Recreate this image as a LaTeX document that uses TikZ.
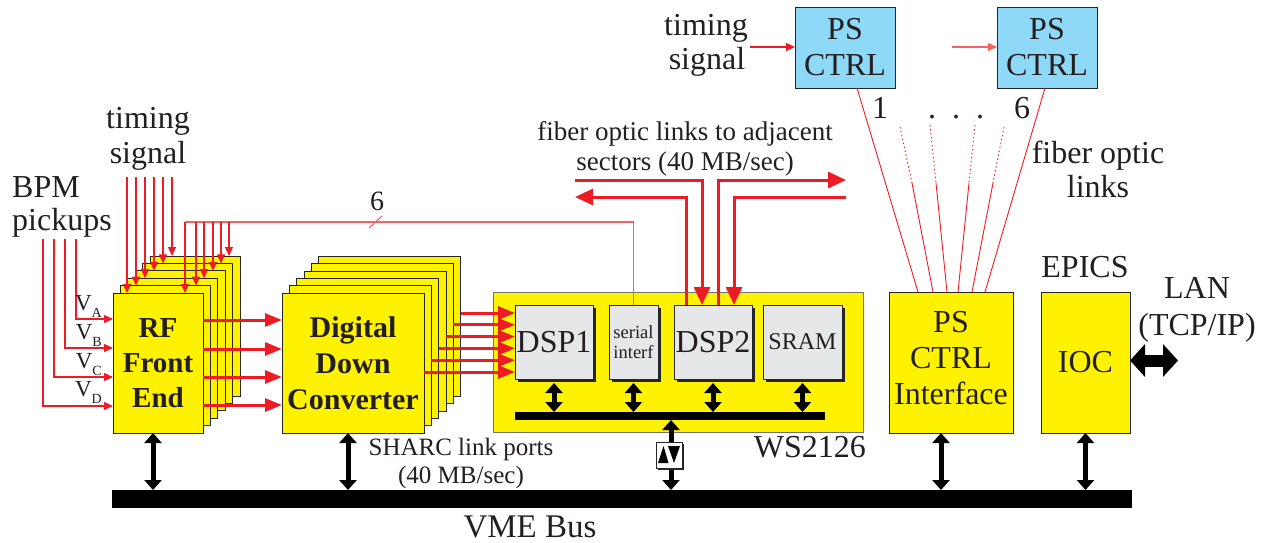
\documentclass[tikz,border=0pt]{standalone}
\usepackage{fontspec}
\setmainfont{Liberation Serif}
\usetikzlibrary{arrows.meta,shadows}
\definecolor{ylw}{HTML}{FFF200}
\definecolor{rd}{HTML}{ED1C24}
\definecolor{rdl}{HTML}{F26464}
\definecolor{gry}{HTML}{E6E7E8}
\definecolor{blu}{HTML}{8ED8F8}
\definecolor{txt}{HTML}{231F20}
\newcommand\myfs[2]{\fontsize{#1}{#2}\selectfont}
\begin{document}
\begin{tikzpicture}[x=1pt,y=-1pt,
  every node/.style={text=txt},
  ybox/.style={draw=black!85, fill=ylw, line width=0.8pt, inner sep=0pt, outer sep=0pt, anchor=north west},
  gbox/.style={draw=black!85, fill=gry, line width=0.8pt, inner sep=0pt, outer sep=0pt, anchor=north west,
     drop shadow={shadow xshift=3pt, shadow yshift=-3pt, fill=black!85, opacity=1}},
  bbox/.style={draw=black!85, fill=blu, line width=0.8pt, inner sep=0pt, outer sep=0pt, anchor=north west},
  lbl/.style={anchor=base, inner sep=0pt, font=\myfs{32}{36}},
  tarr/.style={draw=rd, line width=1.1pt, -{Triangle[width=8pt,length=9pt]}},
  tline/.style={draw=rdl, line width=1.1pt},
  rarr/.style={draw=rd, line width=3pt, -{Triangle[width=13pt,length=17pt]}},
  rarr2/.style={draw=rd, line width=3pt, -{Triangle[width=16pt,length=18pt]}},
  dbl/.style={draw=black, line width=5pt, {Triangle[width=17pt,length=10pt]}-{Triangle[width=17pt,length=10pt]}},
  fib/.style={draw=rd, line width=0.9pt},
  fibd/.style={draw=rd, line width=0.9pt, dash pattern=on 1.5pt off 2.5pt},
  bar/.style={fill=black, inner sep=0pt, outer sep=0pt, anchor=north west}
]
\useasboundingbox (0,0) rectangle (1265,542);

% ---------------- RF front end stack ----------------
\foreach \i in {5,4,3,2,1}{
  \node[ybox, minimum width=90, minimum height=140] (rf\i) at ({113+7.4*\i},{293-7.4*\i}) {};
}
\node[ybox, minimum width=90, minimum height=140, font=\bfseries\myfs{29}{35}, align=center] (rf0) at (113,293) {RF\\Front\\End};

% ---------------- DDC stack ----------------
\foreach \i in {5,4,3,2,1}{
  \node[ybox, minimum width=142, minimum height=140] (ddc\i) at ({282+7.3*\i},{293-7.3*\i}) {};
}
\node[ybox, minimum width=142, minimum height=140, font=\bfseries\myfs{30}{36}, align=center] (ddc0) at (282,293) {Digital\\Down\\Converter};

% ---------------- WS2126 board ----------------
\node[ybox, draw=black!55, minimum width=370, minimum height=140] (board) at (493,292) {};
\node[gbox, minimum width=78, minimum height=74, font=\myfs{32}{36}] (dsp1) at (515,305) {DSP1};
\node[gbox, minimum width=49, minimum height=74, font=\myfs{18.5}{20}, align=center] (ser) at (609,305) {serial\\interf};
\node[gbox, minimum width=78, minimum height=74, font=\myfs{32}{36}] (dsp2) at (674,305) {DSP2};
\node[gbox, minimum width=79, minimum height=74, font=\myfs{24}{28}] (sram) at (763,305) {SRAM};
\node[bar, minimum width=310, minimum height=8] (ibus) at (515,412) {};
\foreach \b in {dsp1,ser,dsp2,sram}{
  \draw[dbl] ([yshift=-4pt]\b.south) -- (\b.south |- ibus.north);
}
\node[lbl, anchor=base east] (ws) at (866,457) {WS2126};

% ---------------- PS CTRL interface & IOC ----------------
\node[ybox, minimum width=124, minimum height=141] (psi) at (889,292) {};
\node[font=\myfs{32}{36}, align=center, inner sep=0pt] (psit) at ([yshift=4pt]psi.center) {PS\\CTRL\\Interface};
\node[ybox, minimum width=89, minimum height=141, font=\myfs{32}{36}] (ioc) at (1041,292) {IOC};
\node[lbl] (epics) at (1085,277) {EPICS};
\node[lbl] (lan1) at (1197,298) {LAN};
\node[lbl] (lan2) at (1197,335) {(TCP/IP)};
\coordinate (lanend) at ([xshift=48pt,yshift=2pt]ioc.east);
\draw[draw=black, line width=12pt, {Triangle[width=32pt,length=15pt]}-{Triangle[width=32pt,length=15pt]}] ([yshift=2pt]ioc.east) -- (lanend);

% ---------------- VME bus ----------------
\node[bar, minimum width=1020, minimum height=18] (vme) at (112,490) {};
\node[lbl, font=\myfs{33}{36}] (vmet) at (530,537) {VME Bus};
\draw[dbl] ([xshift=-5pt]rf0.south) -- ([xshift=-5pt]rf0.south |- vme.north);
\draw[dbl] ([xshift=-5pt]ddc0.south) -- ([xshift=-5pt]ddc0.south |- vme.north);
\draw[dbl] ([xshift=-10pt]psi.south) -- ([xshift=-10pt]psi.south |- vme.north);
\draw[dbl] (ioc.south) -- (ioc.south |- vme.north);
\node[lbl, font=\myfs{25}{28}] (sh1) at (461,455) {SHARC link ports};
\node[lbl, font=\myfs{25}{28}] (sh2) at (461,483) {(40 MB/sec)};

% buffer between VME and board bus
\coordinate (bufc) at (669,455);
\draw[dbl] ([xshift=2pt]bufc |- vme.north) -- ([xshift=2pt]bufc |- ibus.south);
\node[draw=black!85, fill=white, line width=0.8pt, minimum width=26, minimum height=26, inner sep=0pt,
      drop shadow={shadow xshift=2pt, shadow yshift=-2pt, fill=black!85, opacity=1}] (buf) at (bufc) {};
\fill[black] ([xshift=-11pt,yshift=-8pt]buf.center) -- ([xshift=-0.5pt,yshift=-8pt]buf.center) -- ([xshift=-5.5pt,yshift=9pt]buf.center) -- cycle;
\fill[black] ([xshift=-1pt,yshift=9pt]buf.center) -- ([xshift=11pt,yshift=9pt]buf.center) -- ([xshift=5pt,yshift=-8pt]buf.center) -- cycle;

% ---------------- RF -> DDC ----------------
\foreach \j/\y in {0/320,1/349,2/377,3/405}{
  \coordinate (ro\j) at (203,\y);
  \draw[rarr] (ro\j) -- (ro\j -| ddc0.west);
}
% ---------------- DDC -> DSP1 ----------------
\foreach \i in {0,...,5}{
  \coordinate (do\i) at ({424+7.3*\i},{372-11.8*\i});
  \draw[rarr] (do\i) -- (do\i -| dsp1.west);
}

% ---------------- BPM pickups ----------------
\node[lbl, anchor=base west] (bpm1) at (12,197) {BPM};
\node[lbl, anchor=base west] (bpm2) at (12,230) {pickups};
\foreach \j/\x/\y in {0/76/319,1/65/348,2/54/377,3/43/406}{
  \coordinate (bp\j) at (\x,239);
  \coordinate (bv\j) at (113,\y);
  \draw[tarr] (bp\j) |- (bv\j);
}
\foreach \j/\s/\y in {a/A/310,b/B/339,c/C/368,d/D/396}{
  \node[anchor=base east, inner sep=0pt, font=\myfs{23}{24}] (v\j) at (102,\y) {V\raisebox{-7pt}{\myfs{14}{14}\s}};
}

% ---------------- timing signal (left) ----------------
\node[lbl] (ts1) at (148,128) {timing};
\node[lbl] (ts2) at (148,163) {signal};
\foreach \i/\x in {0/127,1/136,2/145,3/154,4/163,5/172}{
  \coordinate (tl\i) at (\x,177);
  \draw[tarr] (tl\i) -- (tl\i |- rf\i.north);
}
% feedback from serial interface (6 lines)
\foreach \i/\x in {0/185,1/196,2/204,3/213,4/221,5/229}{
  \coordinate (td\i) at (\x,222);
}
\draw[tline] (ser.north) -- (ser.north |- td0) -- (td0);
\foreach \i in {0,...,5}{
  \draw[tarr] (td\i) -- (td\i |- rf\i.north);
}
\coordinate (tk1) at (369,228);
\coordinate (tk2) at (382,216);
\draw[tline] (tk1) -- (tk2);
\node[lbl, font=\myfs{28}{30}] (six) at (377,210) {6};

% ---------------- fiber links to adjacent sectors ----------------
\node[lbl, font=\myfs{27}{30}] (fa1) at (685,140) {fiber optic links to adjacent};
\node[lbl, font=\myfs{27}{30}] (fa2) at (685,170) {sectors (40 MB/sec)};
\coordinate (dA) at (575,180);
\coordinate (dB) at (575,197);
\coordinate (dC) at (846,180);
\coordinate (dD) at (846,197);
\draw[rarr2] (dA) -| ([xshift=-11pt]dsp2.north);
\draw[rarr2] ([xshift=-27pt]dsp2.north) |- (dB);
\draw[rarr2] ([xshift=5pt]dsp2.north) |- (dC);
\draw[rarr2] (dD) -| ([xshift=21pt]dsp2.north);

% ---------------- PS CTRL units ----------------
\node[bbox, minimum width=100, minimum height=81, font=\myfs{32}{36}, align=center] (psc1) at (795,7) {PS\\CTRL};
\node[bbox, minimum width=100, minimum height=81, font=\myfs{32}{36}, align=center] (psc2) at (997,7) {PS\\CTRL};
\node[lbl] (tt1) at (706,35) {timing};
\node[lbl] (tt2) at (707,69) {signal};
\coordinate (tsa) at (750,47);
\coordinate (tsb) at (952,47);
\draw[tarr] (tsa) -- (tsa -| psc1.west);
\draw[tarr, draw=rdl] (tsb) -- (tsb -| psc2.west);

\draw[fib] ([xshift=12pt]psc1.south) -- ([xshift=-33pt]psi.north);
\draw[fib] ([xshift=-2pt]psc2.south) -- ([xshift=34pt]psi.north);
\coordinate (m1a) at (900,127); \coordinate (m1b) at (912,183);
\coordinate (m2a) at (930,125); \coordinate (m2b) at (936,183);
\coordinate (m3a) at (975,125); \coordinate (m3b) at (969,183);
\coordinate (m4a) at (1004,127); \coordinate (m4b) at (993,183);
\draw[fibd] (m1a) -- (m1b); \draw[fib] (m1b) -- ([xshift=-18pt]psi.north);
\draw[fibd] (m2a) -- (m2b); \draw[fib] (m2b) -- ([xshift=-4pt]psi.north);
\draw[fibd] (m3a) -- (m3b); \draw[fib] (m3b) -- ([xshift=7pt]psi.north);
\draw[fibd] (m4a) -- (m4b); \draw[fib] (m4b) -- ([xshift=21pt]psi.north);
\node[lbl] (n1) at (880,118) {1};
\node[lbl] (n6) at (1022,118) {6};
\node[lbl] (dots) at (956,118) {.\ \ .\ \ .};
\node[lbl] (fo1) at (1098,163) {fiber optic};
\node[lbl] (fo2) at (1098,197) {links};
\end{tikzpicture}
\end{document}
